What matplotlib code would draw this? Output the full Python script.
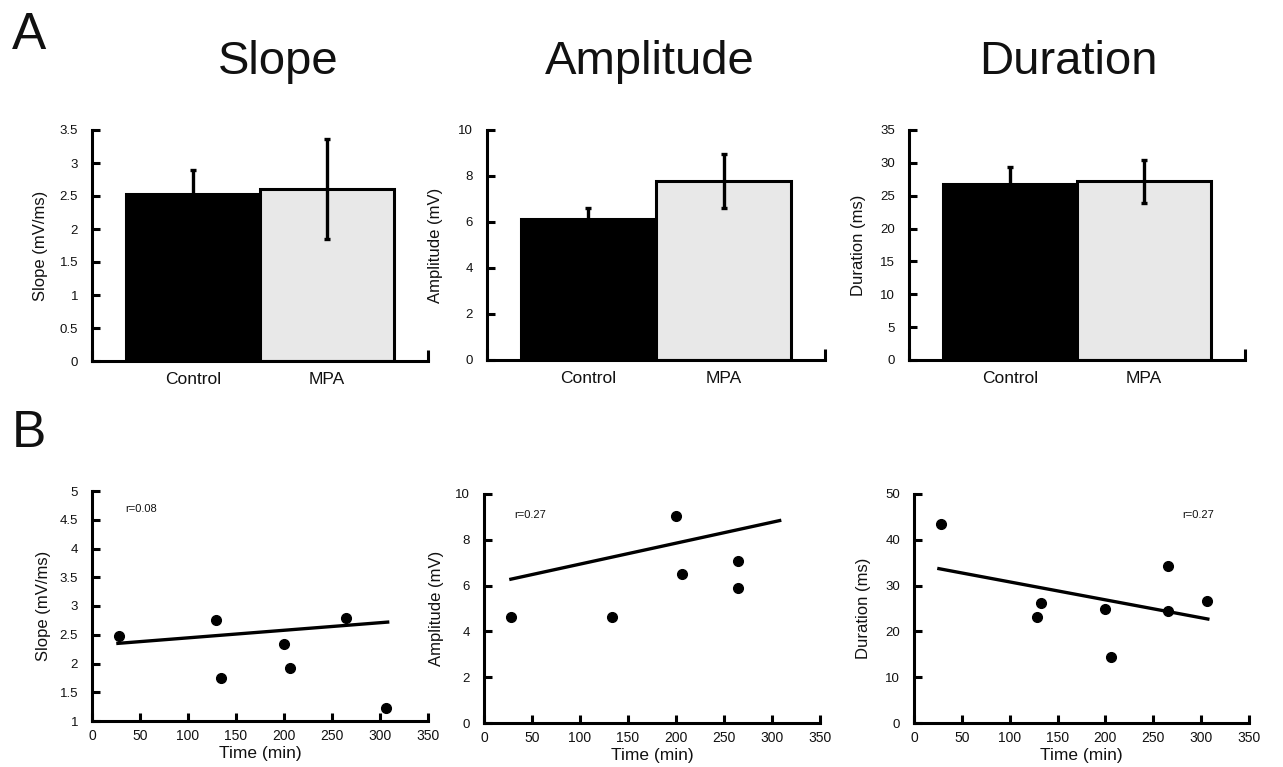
import matplotlib
matplotlib.use("Agg")
import matplotlib.pyplot as plt
from matplotlib.ticker import FixedLocator

plt.rcParams['font.family'] = ['Liberation Sans', 'DejaVu Sans']

# ---- data ----
categories = ['Control', 'MPA']
slope_mean = [2.53, 2.61]
slope_err = [0.36, 0.76]
amp_mean = [6.15, 7.77]
amp_err = [0.47, 1.17]
dur_mean = [26.8, 27.2]
dur_err = [2.5, 3.25]

slope_time = [28, 129, 134, 200, 206, 265, 306]
slope_vals = [2.48, 2.76, 1.74, 2.34, 1.92, 2.80, 1.23]
slope_fit_t = [27, 308]
slope_fit = [2.35, 2.72]
slope_r = 'r=0.08'

amp_time = [28, 133, 200, 206, 265, 265]
amp_vals = [4.64, 4.64, 9.05, 6.50, 7.09, 5.91]
amp_fit_t = [28, 308]
amp_fit = [6.28, 8.84]
amp_r = 'r=0.27'

dur_time = [28, 128, 133, 200, 206, 265, 265, 306]
dur_vals = [43.5, 23.2, 26.1, 24.9, 14.5, 34.2, 24.4, 26.7]
dur_fit_t = [26, 307]
dur_fit = [33.7, 22.7]
dur_r = 'r=0.27'

titles = ['Slope', 'Amplitude', 'Duration']
ylabels = ['Slope (mV/ms)', 'Amplitude (mV)', 'Duration (ms)']
bar_ylims = [(0, 3.5), (0, 10), (0, 35)]
bar_yticks = [[0, 0.5, 1, 1.5, 2, 2.5, 3, 3.5], [0, 2, 4, 6, 8, 10],
              [0, 5, 10, 15, 20, 25, 30, 35]]
bar_yticklabels = [['0', '0.5', '1', '1.5', '2', '2.5', '3', '3.5'],
                   ['0', '2', '4', '6', '8', '10'],
                   ['0', '5', '10', '15', '20', '25', '30', '35']]
sc_ylims = [(1, 5), (0, 10), (0, 50)]
sc_yticks = [[1, 1.5, 2, 2.5, 3, 3.5, 4, 4.5, 5], [0, 2, 4, 6, 8, 10],
             [0, 10, 20, 30, 40, 50]]
sc_yticklabels = [['1', '1.5', '2', '2.5', '3', '3.5', '4', '4.5', '5'],
                  ['0', '2', '4', '6', '8', '10'],
                  ['0', '10', '20', '30', '40', '50']]
time_ticks = [0, 50, 100, 150, 200, 250, 300, 350]

W, H = 1283, 767
fig = plt.figure(figsize=(W / 100, H / 100), dpi=100)
TXT = '#111111'


def fr(left, top, right, bottom):
    return [left / W, 1 - bottom / H, (right - left) / W, (bottom - top) / H]


top_boxes = [fr(92, 130, 428, 361), fr(487, 130, 825, 360), fr(909, 130, 1245, 360)]
bot_boxes = [fr(92, 491, 428, 721), fr(484, 494, 820, 723), fr(914, 494, 1249, 723)]
title_x = [278, 650, 1068]
top_ylabel_pads = [8, 11, 10]
bot_ylabel_pads = [6, 8, 10]

means = [slope_mean, amp_mean, dur_mean]
errs = [slope_err, amp_err, dur_err]

SP = 2.2


def style(ax):
    for s in ['top', 'right']:
        ax.spines[s].set_visible(False)
    for s in ['left', 'bottom']:
        ax.spines[s].set_linewidth(SP)
        ax.spines[s].set_color('black')
    ax.tick_params(axis='both', which='both', direction='in', width=SP,
                   length=6, colors='black', labelcolor=TXT)


for i in range(3):
    ax = fig.add_axes(top_boxes[i])
    style(ax)
    xs = [1, 2]
    ax.bar(xs, means[i], width=1.0, color=['black', '#e8e8e8'],
           edgecolor='black', linewidth=2.2, zorder=2)
    ax.errorbar(xs, means[i], yerr=errs[i], fmt='none', ecolor='black',
                elinewidth=2.4, capsize=2.5, capthick=2.4, zorder=3)
    ax.set_xlim(0.25, 2.75)
    ax.set_ylim(*bar_ylims[i])
    ax.set_yticks(bar_yticks[i])
    ax.set_yticklabels(bar_yticklabels[i], fontsize=9.5)
    ax.set_xticks(xs)
    ax.set_xticklabels(categories, fontsize=12.5)
    ax.tick_params(axis='x', which='major', length=0, pad=8)
    ax.xaxis.set_minor_locator(FixedLocator([0.25, 2.75]))
    ax.tick_params(axis='x', which='minor', length=8)
    ax.tick_params(axis='y', pad=10)
    ax.set_ylabel(ylabels[i], fontsize=12, color=TXT, labelpad=top_ylabel_pads[i])
    for sp in ['left', 'bottom']:
        ax.spines[sp].set_zorder(4)
    fig.text(title_x[i] / W, 1 - 74 / H, titles[i], fontsize=34,
             ha='center', va='baseline', color=TXT)

sc_t = [slope_time, amp_time, dur_time]
sc_v = [slope_vals, amp_vals, dur_vals]
fit_t = [slope_fit_t, amp_fit_t, dur_fit_t]
fit_v = [slope_fit, amp_fit, dur_fit]
r_txt = [slope_r, amp_r, dur_r]
r_pos = [(0.10, 0.92), (0.09, 0.91), (0.80, 0.91)]

for i in range(3):
    ax = fig.add_axes(bot_boxes[i])
    style(ax)
    ax.plot(fit_t[i], fit_v[i], color='black', linewidth=2.4, zorder=2)
    ax.plot(sc_t[i], sc_v[i], linestyle='none', marker='o', markersize=7,
            color='black', zorder=3, clip_on=False)
    ax.set_xlim(0, 350)
    ax.set_ylim(*sc_ylims[i])
    ax.set_xticks(time_ticks)
    ax.set_xticklabels([str(t) for t in time_ticks], fontsize=10)
    ax.set_yticks(sc_yticks[i])
    ax.set_yticklabels(sc_yticklabels[i], fontsize=9.5)
    ax.tick_params(axis='x', pad=6)
    ax.tick_params(axis='y', pad=10)
    ax.set_xlabel('Time (min)', fontsize=12.5, color=TXT, labelpad=2)
    ax.set_ylabel(ylabels[i], fontsize=12, color=TXT, labelpad=bot_ylabel_pads[i])
    ax.text(r_pos[i][0], r_pos[i][1], r_txt[i], transform=ax.transAxes,
            fontsize=8, color=TXT, ha='left', va='center')

fig.text(12 / W, 1 - 49 / H, 'A', fontsize=37, color=TXT, ha='left', va='baseline')
fig.text(12 / W, 1 - 447 / H, 'B', fontsize=37, color=TXT, ha='left', va='baseline')

fig.savefig('out.png', dpi=100, facecolor='white')
